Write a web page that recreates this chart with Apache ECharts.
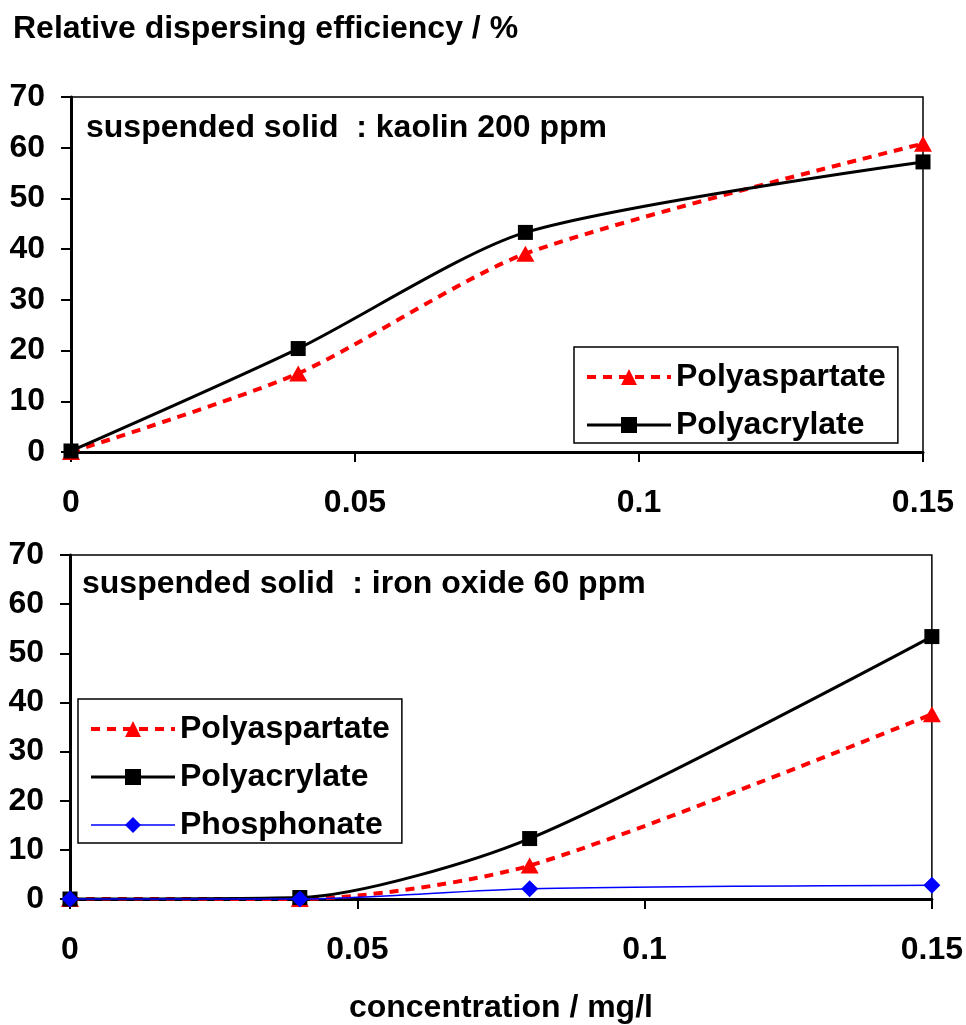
<!DOCTYPE html>
<html>
<head>
<meta charset="utf-8">
<script src="https://cdn.jsdelivr.net/npm/echarts@6/dist/echarts.min.js"></script>
<style>
html,body{margin:0;padding:0;background:#fff;}
#chart{width:966px;height:1025px;}
</style>
</head>
<body>
<div id="chart"></div>
<script>
// Data
const concentrations = [0, 0.04, 0.08, 0.15];
const kaolinPolyaspartate = [0, 15.5, 39.1, 60.8];
const kaolinPolyacrylate = [0.2, 20.4, 43.3, 57.2];
const ironPolyaspartate = [0, 0, 6.8, 37.6];
const ironPolyacrylate = [0, 0.3, 12.3, 53.4];
const ironPhosphonate = [0, 0, 2.1, 2.8];
const seriesNames = ['Polyaspartate', 'Polyacrylate', 'Phosphonate'];
const yTicks = {min: 0, max: 70, interval: 10};
const xTicks = {min: 0, max: 0.15, interval: 0.05};

const FONT = '"Liberation Sans", Arial, sans-serif';
const FS = 32;
const pairs = ys => concentrations.map((x, i) => [x, ys[i]]);

const styles = {
  Polyaspartate: {color: '#ff0000', lineStyle: {color: '#ff0000', width: 4, type: [9, 7]}, symbol: 'triangle', symbolSize: [18, 16]},
  Polyacrylate: {color: '#000000', lineStyle: {color: '#000000', width: 3, type: 'solid'}, symbol: 'rect', symbolSize: 15},
  Phosphonate: {color: '#0000ff', lineStyle: {color: '#0000ff', width: 1.5, type: 'solid'}, symbol: 'diamond', symbolSize: 17}
};

function mk(name, ys, idx) {
  const s = styles[name];
  return {
    name: name, type: 'line', xAxisIndex: idx, yAxisIndex: idx,
    data: pairs(ys), smooth: 0.25, clip: false,
    symbol: s.symbol, symbolSize: s.symbolSize, showSymbol: true,
    itemStyle: {color: s.color}, lineStyle: s.lineStyle,
    emphasis: {disabled: true}, animation: false
  };
}

function xAxis(idx) {
  return {
    type: 'value', gridIndex: idx, min: xTicks.min, max: xTicks.max, interval: xTicks.interval,
    axisLine: {show: true, lineStyle: {color: '#000', width: 3}},
    axisTick: {show: true, inside: false, length: 10, lineStyle: {color: '#000', width: 2}},
    axisLabel: {color: '#000', fontFamily: FONT, fontWeight: 'bold', fontSize: FS, margin: 35},
    splitLine: {show: false}
  };
}
function yAxis(idx) {
  return {
    type: 'value', gridIndex: idx, min: yTicks.min, max: yTicks.max, interval: yTicks.interval,
    axisLine: {show: true, lineStyle: {color: '#000', width: 3}},
    axisTick: {show: true, inside: false, length: 10, lineStyle: {color: '#000', width: 2}},
    axisLabel: {color: '#000', fontFamily: FONT, fontWeight: 'bold', fontSize: FS, margin: 26},
    splitLine: {show: false}
  };
}

const legendText = {color: '#000', fontFamily: FONT, fontWeight: 'bold', fontSize: FS, lineHeight: 36};

const x1 = xAxis(1);
x1.name = 'concentration / mg/l';
x1.nameLocation = 'middle';
x1.nameGap = 93;
x1.nameTextStyle = {color: '#000', fontFamily: FONT, fontWeight: 'bold', fontSize: FS};

const titleText = {color: '#000', fontFamily: FONT, fontWeight: 'bold', fontSize: FS};

function legend(names, left, top) {
  return {
    data: names, orient: 'vertical', left: left, top: top,
    padding: [12, 12, 0, 11], itemGap: 12, itemWidth: 84, itemHeight: 20,
    borderColor: '#000', borderWidth: 1.5, backgroundColor: '#fff',
    textStyle: legendText, selectedMode: false,
    itemStyle: {borderWidth: 0},
    lineStyle: {width: 'inherit', type: 'inherit', color: 'inherit'}
  };
}

const option = {
  backgroundColor: '#fff',
  animation: false,
  title: [
    {text: 'Relative dispersing efficiency / %', left: 13, top: 13, padding: 0, textStyle: titleText},
    {text: 'suspended solid  : kaolin 200 ppm', left: 86, top: 112, padding: 0, textStyle: titleText},
    {text: 'suspended solid  : iron oxide 60 ppm', left: 82, top: 568, padding: 0, textStyle: titleText}
  ],
  grid: [
    {left: 71, width: 852, top: 97, height: 355, show: true, borderColor: '#000', borderWidth: 1.5, backgroundColor: 'transparent'},
    {left: 70, width: 862, top: 555, height: 348, show: true, borderColor: '#000', borderWidth: 1.5, backgroundColor: 'transparent'}
  ],
  xAxis: [xAxis(0), x1],
  yAxis: [yAxis(0), yAxis(1)],
  legend: [
    legend(seriesNames.slice(0, 2), 574, 347),
    legend(seriesNames.slice(0, 3), 78, 699)
  ],
  series: [
    mk('Polyaspartate', kaolinPolyaspartate, 0),
    mk('Polyacrylate', kaolinPolyacrylate, 0),
    mk('Polyaspartate', ironPolyaspartate, 1),
    mk('Polyacrylate', ironPolyacrylate, 1),
    mk('Phosphonate', ironPhosphonate, 1)
  ]
};

const chart = echarts.init(document.getElementById('chart'), null, {renderer: 'canvas'});
chart.setOption(option);
</script>
</body>
</html>
